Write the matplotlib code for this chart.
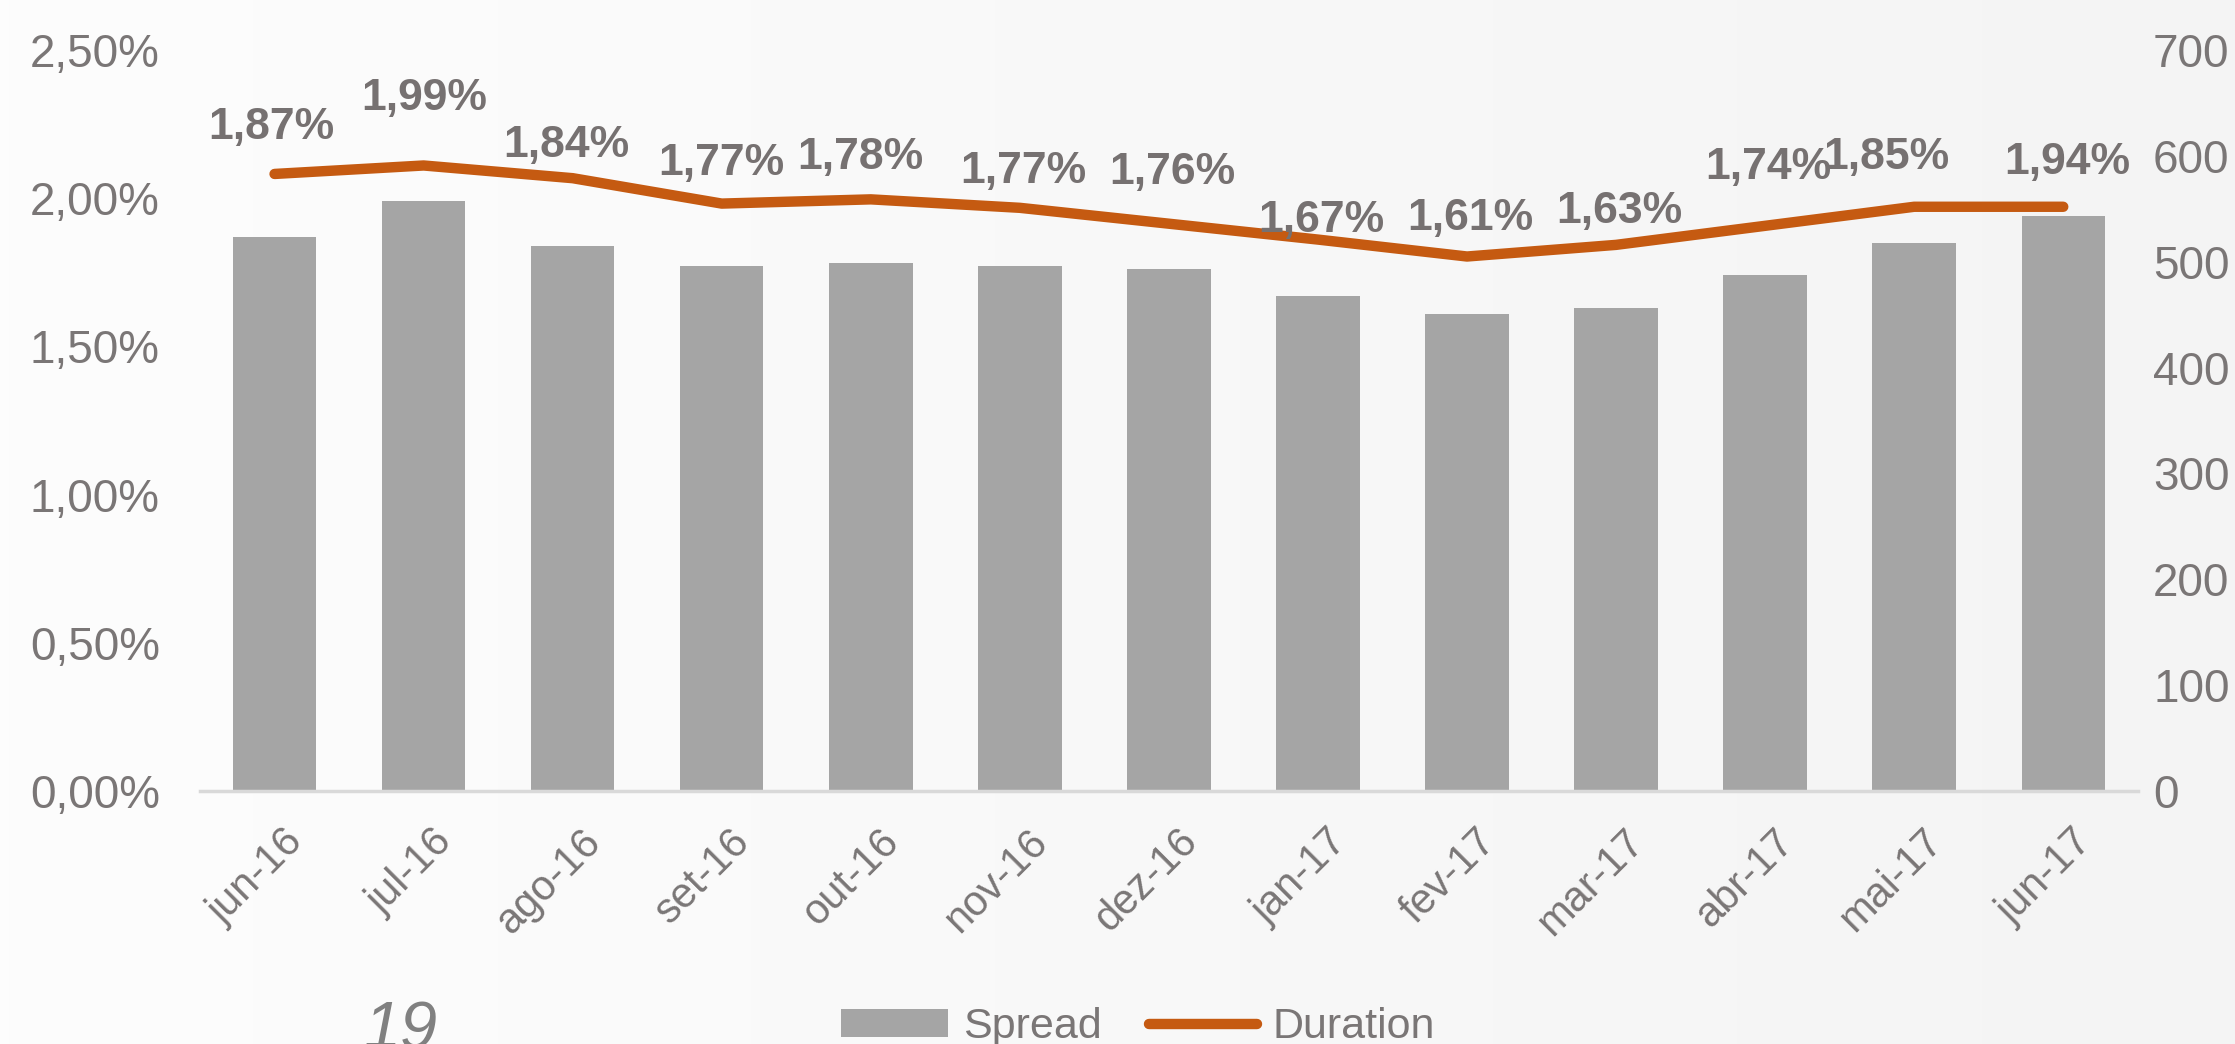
import numpy as np
import matplotlib.pyplot as plt
import matplotlib.transforms as mtransforms
from matplotlib.ticker import FuncFormatter, MultipleLocator
from matplotlib.patches import Patch
from matplotlib.lines import Line2D
from matplotlib.colors import LinearSegmentedColormap

# ----------------------------- data -----------------------------
months = ["jun-16", "jul-16", "ago-16", "set-16", "out-16", "nov-16", "dez-16",
          "jan-17", "fev-17", "mar-17", "abr-17", "mai-17", "jun-17"]
spread = [1.87, 1.99, 1.84, 1.77, 1.78, 1.77, 1.76, 1.67, 1.61, 1.63, 1.74, 1.85, 1.94]
duration = [583, 591, 579, 555, 559, 551, 536, 521, 505, 516, 534, 552, 552]
spread_labels = ["1,87%", "1,99%", "1,84%", "1,77%", "1,78%", "1,77%", "1,76%",
                 "1,67%", "1,61%", "1,63%", "1,74%", "1,85%", "1,94%"]

# label nudges (pixels) so the labels sit where they are in the slide
label_dx_px = [-3, 1, -6, 0, -10, 3, 3, 3, 3, 3, 3, -28, 4]
label_dy_px = [46, 67, 33, 40, 42, 36, 51, 19, 38, 33, 58, 49, 44]

# ----------------------------- style -----------------------------
BAR_COLOR = "#a5a5a5"
LINE_COLOR = "#c55a11"
TEXT_COLOR = "#767171"
TICK_COLOR = "#7a7676"
AXIS_COLOR = "#d9d9d9"
DPI = 100

plt.rcParams["font.family"] = ["Liberation Sans", "DejaVu Sans"]

fig = plt.figure(figsize=(22.35, 10.44), dpi=DPI)

# subtle slide background, slightly darker towards the right
bg = fig.add_axes([0, 0, 1, 1], zorder=-10)
grad = np.linspace(0, 1, 256).reshape(1, -1)
bg_cmap = LinearSegmentedColormap.from_list("bg", ["#fdfdfd", "#f4f4f4"])
bg.imshow(grad, aspect="auto", cmap=bg_cmap, extent=[0, 1, 0, 1])
bg.set_axis_off()

ax = fig.add_axes([0.0895, 0.2423, 0.867, 0.7097])
ax.set_facecolor("none")
x = np.arange(len(months))

ax.bar(x, spread, width=0.56, color=BAR_COLOR, zorder=2)
ax.set_xlim(-0.5, len(months) - 0.5)
ax.set_ylim(0, 2.5)
ax.yaxis.set_major_locator(MultipleLocator(0.5))
ax.yaxis.set_major_formatter(FuncFormatter(lambda v, p: f"{v:.2f}%".replace(".", ",")))

for s in ["top", "left", "right"]:
    ax.spines[s].set_visible(False)
ax.spines["bottom"].set_color(AXIS_COLOR)
ax.spines["bottom"].set_linewidth(2.5)
ax.spines["bottom"].set_zorder(3)

ax.tick_params(axis="y", length=0, pad=29, labelsize=33, labelcolor=TICK_COLOR)
ax.tick_params(axis="x", length=0, pad=22, labelsize=30, labelcolor=TICK_COLOR)
ax.set_xticks(x)
ax.set_xticklabels(months, rotation=45, ha="right", rotation_mode="anchor")
shift = mtransforms.ScaledTranslation(8 / DPI, 0, fig.dpi_scale_trans)
for lbl in ax.get_xticklabels():
    lbl.set_transform(lbl.get_transform() + shift)

# secondary axis for Duration
ax2 = ax.twinx()
ax2.set_ylim(0, 700)
ax2.yaxis.set_major_locator(MultipleLocator(100))
for s in ax2.spines.values():
    s.set_visible(False)
ax2.tick_params(axis="y", length=0, pad=11, labelsize=33, labelcolor=TICK_COLOR)

ax2.plot(x, duration, color=LINE_COLOR, lw=7.5, solid_capstyle="round",
         solid_joinstyle="round", zorder=4)

# data labels (spread values) above the duration line
for i in range(len(months)):
    ax2.annotate(spread_labels[i], (x[i], duration[i]),
                 xytext=(label_dx_px[i] * 72 / DPI, label_dy_px[i] * 72 / DPI),
                 textcoords="offset points", ha="center", va="center",
                 fontsize=32, fontweight="bold", color=TEXT_COLOR, zorder=5)

# legend at the bottom
handles = [Patch(facecolor=BAR_COLOR, edgecolor="none"),
           Line2D([0], [0], color=LINE_COLOR, lw=7.5, solid_capstyle="round")]
fig.legend(handles, ["Spread", "Duration"], loc="center", bbox_to_anchor=(0.509, 0.016),
           ncol=2, frameon=False, fontsize=31, labelcolor=TICK_COLOR,
           handlelength=2.5, handleheight=0.6, handletextpad=0.35, columnspacing=1.1)

# page number of the slide
fig.text(0.179, -0.004, "19", fontsize=48, fontstyle="italic", color="#808080",
         ha="center", va="baseline")

fig.savefig("out.png", dpi=DPI)
